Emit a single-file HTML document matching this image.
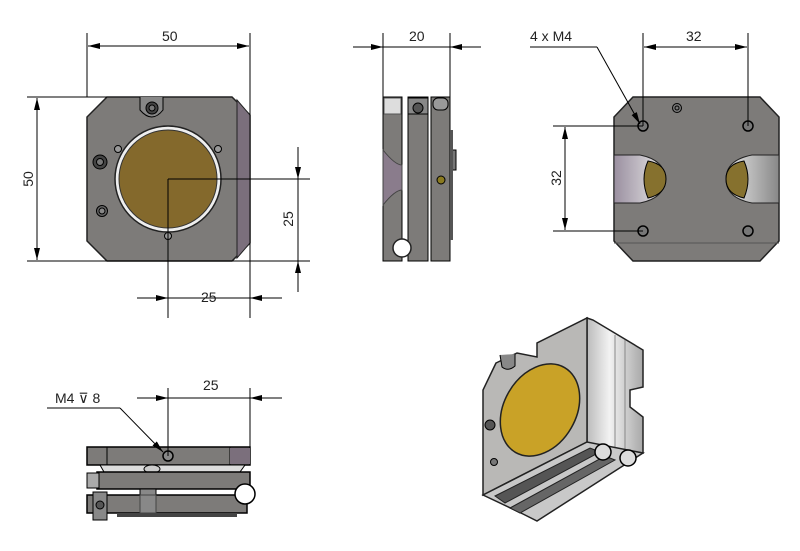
<!DOCTYPE html>
<html><head><meta charset="utf-8"><style>
html,body{margin:0;padding:0;background:#fff;}
svg{display:block;}
text{font-family:"Liberation Sans",sans-serif;font-size:14px;fill:#222;}
</style></head><body>
<svg width="800" height="551" viewBox="0 0 800 551" xmlns="http://www.w3.org/2000/svg">
<defs>
<marker id="a" viewBox="0 0 12 6" refX="12" refY="3" markerWidth="12" markerHeight="6" orient="auto-start-reverse" markerUnits="userSpaceOnUse"><path d="M0,0 L12,3 L0,6z" fill="#000"/></marker>
<linearGradient id="g1" x1="0" x2="1"><stop offset="0" stop-color="#9a8fa0"/><stop offset="1" stop-color="#e8e8e8"/></linearGradient>
<linearGradient id="g2" x1="0" x2="1"><stop offset="0" stop-color="#e6e6e6"/><stop offset="1" stop-color="#888"/></linearGradient>
<linearGradient id="gs" x1="0" x2="1"><stop offset="0" stop-color="#bbb"/><stop offset="0.4" stop-color="#f2f2f2"/><stop offset="1" stop-color="#a8a8a8"/></linearGradient>
<linearGradient id="gb" x1="0" y1="0" x2="0" y2="1"><stop offset="0" stop-color="#555"/><stop offset="1" stop-color="#d0d0d0"/></linearGradient>
</defs>
<g stroke="#000" stroke-width="1" fill="none">
<!-- FRONT VIEW -->
<path d="M107,97 L232,97 L250,115 L250,243 L232,261 L107,261 L87,241 L87,117 Z" fill="#7d7b79" stroke="#222" stroke-width="1.5"/>
<path d="M237,100 L250,115 L250,243 L237,258 Z" fill="#7b6f7c" stroke="#222"/>
<path d="M140,97 L140,110 Q152,124 163,110 L163,97" fill="#888"/>
<circle cx="152" cy="108" r="6" fill="#444"/><circle cx="152" cy="108" r="3" fill="#777"/>
<circle cx="100" cy="162" r="7" fill="#444"/><circle cx="100" cy="162" r="3.5" fill="#777"/>
<circle cx="102" cy="211" r="5.5" fill="#666"/><circle cx="102" cy="211" r="3" fill="#888"/>
<circle cx="118" cy="149" r="3.5" fill="#999"/><circle cx="218" cy="149" r="3.5" fill="#999"/><circle cx="168" cy="236" r="3.5" fill="#999"/>
<circle cx="168" cy="179" r="53" fill="#eee" stroke="#222" stroke-width="1.5"/>
<circle cx="168" cy="179" r="49" fill="#84692c" stroke="#333"/>
<line x1="87" y1="33" x2="87" y2="97"/><line x1="250" y1="33" x2="250" y2="318"/>
<line x1="88" y1="46" x2="249" y2="46" marker-start="url(#a)" marker-end="url(#a)"/>
<line x1="27" y1="97" x2="107" y2="97"/><line x1="27" y1="261" x2="310" y2="261"/>
<line x1="37" y1="98" x2="37" y2="260" marker-start="url(#a)" marker-end="url(#a)"/>
<line x1="168" y1="179" x2="310" y2="179"/><line x1="168" y1="179" x2="168" y2="318"/>
<line x1="298" y1="147" x2="298" y2="179" marker-end="url(#a)"/><line x1="298" y1="179" x2="298" y2="261"/><line x1="298" y1="292" x2="298" y2="261" marker-end="url(#a)"/>
<line x1="137" y1="298" x2="168" y2="298" marker-end="url(#a)"/><line x1="168" y1="298" x2="250" y2="298"/><line x1="282" y1="298" x2="250" y2="298" marker-end="url(#a)"/>
<!-- SIDE VIEW -->
<rect x="383" y="97" width="19" height="164" fill="#7d7b79"/>
<rect x="384" y="98" width="17" height="16" fill="#ddd" stroke="#555"/>
<path d="M383,150 Q395,165 402,165 L402,190 Q395,190 383,205 Z" fill="#8a7c8c" stroke="#444"/>
<rect x="408" y="97" width="20" height="164" fill="#7d7b79"/>
<rect x="408" y="98" width="20" height="16" fill="#888"/>
<circle cx="418" cy="108" r="5" fill="#555"/>
<rect x="431" y="97" width="19" height="164" fill="#7d7b79"/>
<rect x="433" y="98" width="15" height="12" rx="5" fill="#999"/>
<rect x="450" y="150" width="6" height="20" fill="#777"/>
<circle cx="441" cy="180" r="4" fill="#8a7a20"/>
<rect x="450" y="130" width="3" height="110" fill="#555" stroke="none"/>
<circle cx="402" cy="248" r="9" fill="#fff" stroke="#222" stroke-width="1.5"/>
<line x1="383" y1="33" x2="383" y2="97"/><line x1="450" y1="33" x2="450" y2="97"/>
<line x1="353" y1="47" x2="383" y2="47" marker-end="url(#a)"/><line x1="383" y1="47" x2="450" y2="47"/><line x1="481" y1="47" x2="450" y2="47" marker-end="url(#a)"/>
<!-- REAR VIEW -->
<path d="M633,97 L760,97 L779,117 L779,241 L760,261 L633,261 L614,241 L614,117 Z" fill="#7d7b79" stroke="#222" stroke-width="1.5"/>
<line x1="614" y1="243" x2="779" y2="243" stroke="#555"/>
<path d="M614,155 L640,155 Q665,160 665,179 Q665,198 640,203 L614,203 Z" fill="url(#g1)" stroke="#222"/>
<path d="M648,161 Q666,164 666,179 Q666,194 648,198 Q640,179 648,161 Z" fill="#86712e"/>
<path d="M779,155 L752,155 Q726,160 726,179 Q726,198 752,203 L779,203 Z" fill="url(#g2)" stroke="#222"/>
<path d="M744,161 Q726,164 726,179 Q726,194 744,198 Q752,179 744,161 Z" fill="#86712e"/>
<circle cx="643" cy="126" r="5" fill="#777" stroke-width="1.5"/><circle cx="748" cy="126" r="5" fill="#777" stroke-width="1.5"/>
<circle cx="643" cy="231" r="5" fill="#777" stroke-width="1.5"/><circle cx="748" cy="231" r="5" fill="#777" stroke-width="1.5"/>
<circle cx="677" cy="108" r="4.5" fill="#777"/><circle cx="677" cy="108" r="2" fill="#777"/>
<line x1="643" y1="33" x2="643" y2="126"/><line x1="748" y1="33" x2="748" y2="126"/>
<line x1="644" y1="47" x2="747" y2="47" marker-start="url(#a)" marker-end="url(#a)"/>
<line x1="553" y1="126" x2="643" y2="126"/><line x1="553" y1="231" x2="643" y2="231"/>
<line x1="565" y1="127" x2="565" y2="230" marker-start="url(#a)" marker-end="url(#a)"/>
<polyline points="530,47 597,47"/><line x1="597" y1="47" x2="640" y2="124" marker-end="url(#a)"/>
<!-- BOTTOM VIEW -->
<rect x="87" y="447" width="163" height="18" fill="#7d7b79" stroke-width="1.5"/>
<line x1="107" y1="447" x2="107" y2="465"/><line x1="230" y1="447" x2="230" y2="465"/>
<rect x="230" y="448" width="20" height="16" fill="#7b6f7c" stroke="none"/>
<circle cx="168" cy="456" r="5" fill="#888" stroke-width="1.5"/>
<path d="M100,465 L245,465 L240,472 L104,472 Z" fill="#ddd"/>
<ellipse cx="152" cy="469" rx="8" ry="4" fill="#ccc"/>
<rect x="97" y="472" width="153" height="17" fill="#7d7b79" stroke-width="1.5"/>
<rect x="87" y="473" width="12" height="15" fill="#aaa"/>
<rect x="87" y="495" width="160" height="18" fill="#7d7b79" stroke-width="1.5"/>
<rect x="140" y="489" width="16" height="8" fill="#888"/>
<rect x="140" y="495" width="16" height="18" fill="#888" stroke="#444"/>
<rect x="93" y="492" width="14" height="28" fill="#888"/><circle cx="100" cy="505" r="4" fill="#555"/>
<rect x="117" y="513" width="120" height="4" fill="#444" stroke="none"/>
<circle cx="245" cy="494" r="10" fill="#fff" stroke-width="1.5"/>
<line x1="168" y1="388" x2="168" y2="456"/><line x1="250" y1="388" x2="250" y2="447"/>
<line x1="137" y1="398" x2="168" y2="398" marker-end="url(#a)"/><line x1="168" y1="398" x2="250" y2="398"/><line x1="282" y1="398" x2="250" y2="398" marker-end="url(#a)"/>
<polyline points="47,408 120,408"/><line x1="120" y1="408" x2="163" y2="452" marker-end="url(#a)"/>
<!-- ISOMETRIC -->
<path d="M587,318 L593,320 L643,350 L643,387 L630,390 L630,407 L643,417 L643,453 L587,445 Z" fill="url(#gs)" stroke="#222" stroke-width="1.5"/>
<line x1="615" y1="335" x2="615" y2="448" stroke="#888"/><line x1="625" y1="340" x2="625" y2="450" stroke="#888"/>
<path d="M496,363 L517,353 L537,357 L537,343 L587,318 L587,442 L483,495 L483,390 Z" fill="#b9b8b6" stroke="#222" stroke-width="1.5"/>
<path d="M483,495 L587,442 L643,453 L537,521 L523,514 Z" fill="#c8c8c8" stroke="#222" stroke-width="1.5"/>
<path d="M495,496 L590,448 L600,452 L505,503 Z" fill="#555" stroke="#222"/>
<path d="M510,508 L605,456 L615,460 L520,513 Z" fill="#666" stroke="#222"/>
<path d="M500,355 L502,367 Q508,372 515,366 L515,354" fill="#888"/>
<ellipse cx="540" cy="410" rx="36" ry="49" transform="rotate(30 540 410)" fill="#c9a227" stroke="#222" stroke-width="1.5"/>
<circle cx="490" cy="425" r="5" fill="#555"/><circle cx="494" cy="462" r="3.5" fill="#777"/>
<circle cx="603" cy="452" r="8" fill="#ddd" stroke-width="1.5"/><circle cx="628" cy="458" r="8" fill="#ddd" stroke-width="1.5"/>
</g>
<text x="162" y="41">50</text>
<text x="409" y="41">20</text>
<text x="686" y="41">32</text>
<text x="530" y="41">4  x   M4</text>
<text x="201" y="302">25</text>
<text x="203" y="390">25</text>
<text x="55" y="403">M4  ⊽  8</text>
<text transform="translate(33,179) rotate(-90)" text-anchor="middle">50</text>
<text transform="translate(293,219) rotate(-90)" text-anchor="middle">25</text>
<text transform="translate(561,178) rotate(-90)" text-anchor="middle">32</text>
</svg>
</body></html>
